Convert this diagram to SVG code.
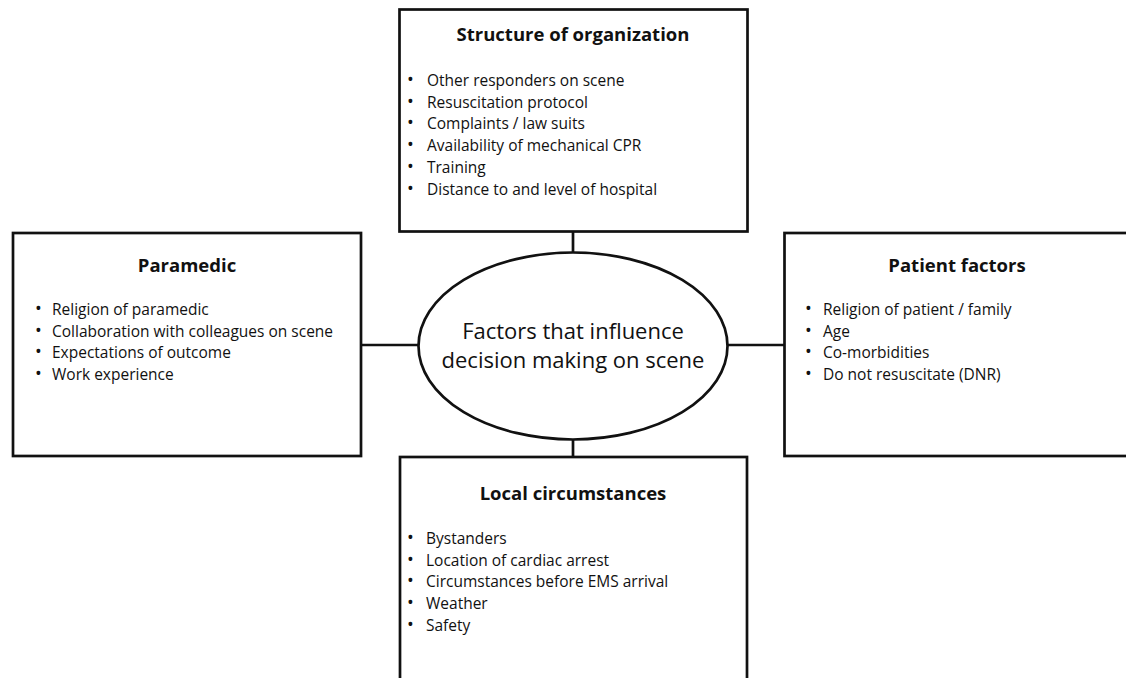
<svg xmlns="http://www.w3.org/2000/svg" width="1126" height="678" viewBox="0 0 1126 678">
  <style>
    .box { fill: #ffffff; stroke: #111111; stroke-width: 2.7; }
    .link { stroke: #111111; stroke-width: 2.7; fill: none; }
    .title { font-family: "Open Sans", "Liberation Sans", sans-serif; font-weight: bold; font-size: 18.5px; fill: #111111; text-anchor: middle; }
    .item { font-family: "Open Sans", "Liberation Sans", sans-serif; font-size: 15.5px; fill: #111111; }
    .dot { font-size: 18px; }
    .hub { font-family: "Open Sans", "Liberation Sans", sans-serif; font-size: 22px; fill: #111111; text-anchor: middle; }
  </style>
  <rect width="1126" height="678" fill="#ffffff"/>

  <!-- connectors between the central ellipse and the four boxes -->
  <g id="connectors">
    <line class="link" x1="573" y1="232" x2="573" y2="253"/>
    <line class="link" x1="573" y1="439" x2="573" y2="457"/>
    <line class="link" x1="361" y1="345" x2="419" y2="345"/>
    <line class="link" x1="727" y1="345" x2="784" y2="345"/>
  </g>

  <g id="structure-of-organization">
    <rect class="box" x="399.5" y="9.5" width="348" height="222"/>
    <text class="title" x="573" y="41">Structure of organization</text>
    <g class="item">
      <text class="dot" x="407" y="86">•</text><text x="427" y="86">Other responders on scene</text>
      <text class="dot" x="407" y="107.7">•</text><text x="427" y="107.7">Resuscitation protocol</text>
      <text class="dot" x="407" y="129.4">•</text><text x="427" y="129.4">Complaints / law suits</text>
      <text class="dot" x="407" y="151.1">•</text><text x="427" y="151.1">Availability of mechanical CPR</text>
      <text class="dot" x="407" y="172.8">•</text><text x="427" y="172.8">Training</text>
      <text class="dot" x="407" y="194.5">•</text><text x="427" y="194.5">Distance to and level of hospital</text>
    </g>
  </g>

  <g id="paramedic">
    <rect class="box" x="13" y="233" width="348" height="223"/>
    <text class="title" x="187" y="272">Paramedic</text>
    <g class="item">
      <text class="dot" x="35" y="315">•</text><text x="52" y="315">Religion of paramedic</text>
      <text class="dot" x="35" y="336.7">•</text><text x="52" y="336.7">Collaboration with colleagues on scene</text>
      <text class="dot" x="35" y="358.4">•</text><text x="52" y="358.4">Expectations of outcome</text>
      <text class="dot" x="35" y="380.1">•</text><text x="52" y="380.1">Work experience</text>
    </g>
  </g>

  <g id="patient-factors">
    <rect class="box" x="784.5" y="233" width="360" height="223"/>
    <text class="title" x="957" y="272">Patient factors</text>
    <g class="item">
      <text class="dot" x="805" y="315">•</text><text x="823" y="315">Religion of patient / family</text>
      <text class="dot" x="805" y="336.7">•</text><text x="823" y="336.7">Age</text>
      <text class="dot" x="805" y="358.4">•</text><text x="823" y="358.4">Co-morbidities</text>
      <text class="dot" x="805" y="380.1">•</text><text x="823" y="380.1">Do not resuscitate (DNR)</text>
    </g>
  </g>

  <g id="local-circumstances">
    <rect class="box" x="400" y="457" width="347" height="240"/>
    <text class="title" x="573" y="500">Local circumstances</text>
    <g class="item">
      <text class="dot" x="407" y="544">•</text><text x="426" y="544">Bystanders</text>
      <text class="dot" x="407" y="565.7">•</text><text x="426" y="565.7">Location of cardiac arrest</text>
      <text class="dot" x="407" y="587.4">•</text><text x="426" y="587.4">Circumstances before EMS arrival</text>
      <text class="dot" x="407" y="609.1">•</text><text x="426" y="609.1">Weather</text>
      <text class="dot" x="407" y="630.8">•</text><text x="426" y="630.8">Safety</text>
    </g>
  </g>

  <g id="decision-factors">
    <ellipse class="box" cx="573" cy="346" rx="154.5" ry="93.5"/>
    <text class="hub" x="573" y="339">Factors that influence</text>
    <text class="hub" x="573" y="368">decision making on scene</text>
  </g>
</svg>
